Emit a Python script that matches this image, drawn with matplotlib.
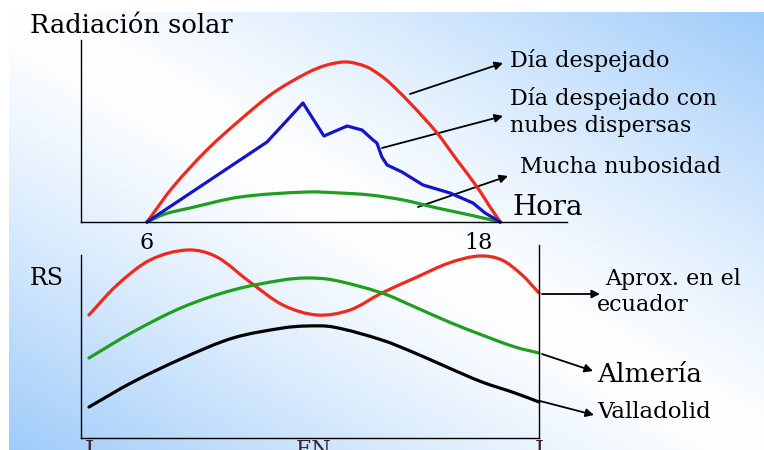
import numpy as np
import matplotlib
matplotlib.use("Agg")
import matplotlib.pyplot as plt
from matplotlib.path import Path
from matplotlib.patches import PathPatch

# ---------------- data ----------------
# Top chart: hours of the day vs. solar radiation (arbitrary units)
clear_h = [6.00, 6.94, 8.17, 9.37, 10.57, 11.80, 12.52, 13.25, 13.97, 14.44, 14.80,
           15.53, 16.51, 17.23, 17.96, 18.43, 18.80]
clear_v = [0, 35, 72, 102, 129, 149, 157, 160, 155, 147, 139, 119, 89, 62, 35, 15, 0]

scattered_h = [6.00, 10.35, 11.65, 12.41, 13.25, 13.79, 14.19, 14.33, 14.51, 14.70,
               15.24, 15.53, 16.00, 16.98, 17.81, 18.25, 18.80]
scattered_v = [0, 80, 119, 86, 96, 92, 82, 79, 65, 57, 50, 45, 37, 29, 19, 9, 0]

cloudy_h = [6.00, 6.65, 7.56, 9.37, 11.80, 12.99, 14.08, 15.28, 16.51, 17.70, 18.80]
cloudy_v = [0, 8, 14, 25, 30, 29, 27, 22, 14, 7, 0]

hour_ticks = [6, 18]
hour_labels = ["6", "18"]

# Bottom chart: time of year vs. RS
ecuador_m = [0, 0.75, 1.63, 2.64, 3.41, 4.29, 5.17, 6.08, 6.96, 7.81, 8.69, 9.60,
             10.40, 11.01, 11.55, 12]
ecuador_v = [123, 153, 178, 188, 181, 156, 133, 123, 128, 145, 160, 175, 182, 178, 163, 145]

city_m = [0, 1.17, 2.51, 3.84, 5.17, 5.81, 6.51, 7.81, 8.69, 9.60, 10.48, 11.36, 12]
almeria_v = [80, 106, 131, 148, 158, 160, 158, 145, 131, 116, 103, 91, 85]
valladolid_v = [31, 56, 80, 100, 110, 112, 111, 98, 85, 70, 56, 45, 36]

month_ticks = [0, 6, 12]
month_labels = ["J", "EN", "J"]

# ---------------- figure ----------------
W, H = 764, 450
fig = plt.figure(figsize=(W / 100, H / 100), dpi=100)

def px(x, y):
    return (x / W, 1 - y / H)

# background gradient
bg = fig.add_axes([0, 0, 1, 1], zorder=-10)
yy, xx = np.mgrid[0:H, 0:W]
u = (xx - 9) / (W - 9)
v = (yy - 12) / (H - 12)
t = np.clip(np.abs(u - v), 0, 1) ** 1.25
blue = np.array([158, 203, 250]) / 255.0
white = np.array([1.0, 1.0, 1.0])
img = white[None, None, :] * (1 - t[..., None]) + blue[None, None, :] * t[..., None]
img[(yy < 12) | (xx < 9)] = 1.0
bg.imshow(img, extent=[0, W, H, 0], aspect="auto", interpolation="bilinear")
bg.set_axis_off()

FONT = "DejaVu Serif"
RED = "#ee2a1c"
BLUE = "#1414c8"
GREEN = "#1f9e1f"
LW = 2.3


def smooth_curve(ax, xs, ys, color):
    """Draw a smooth (Hermite/Bezier) path through the given data points."""
    xs = np.asarray(xs, float)
    ys = np.asarray(ys, float)
    n = len(xs)
    m = np.empty(n)
    m[0] = (ys[1] - ys[0]) / (xs[1] - xs[0])
    m[-1] = (ys[-1] - ys[-2]) / (xs[-1] - xs[-2])
    for i in range(1, n - 1):
        m[i] = (ys[i + 1] - ys[i - 1]) / (xs[i + 1] - xs[i - 1])
    verts = [(xs[0], ys[0])]
    codes = [Path.MOVETO]
    for i in range(n - 1):
        dx = xs[i + 1] - xs[i]
        verts += [(xs[i] + dx / 3, ys[i] + m[i] * dx / 3),
                  (xs[i + 1] - dx / 3, ys[i + 1] - m[i + 1] * dx / 3),
                  (xs[i + 1], ys[i + 1])]
        codes += [Path.CURVE4] * 3
    patch = PathPatch(Path(verts, codes), facecolor="none", edgecolor=color,
                      lw=LW, capstyle="round", joinstyle="round",
                      transform=ax.transData, clip_on=False)
    ax.add_patch(patch)


# ---- top axes ----
x0, x1 = 81, 567
y0, y1 = 40, 222
ax1 = fig.add_axes([x0 / W, 1 - y1 / H, (x1 - x0) / W, (y1 - y0) / H])
ax1.set_facecolor("none")
smooth_curve(ax1, clear_h, clear_v, RED)
ax1.plot(scattered_h, scattered_v, color=BLUE, lw=LW, solid_joinstyle="round",
         clip_on=False)
smooth_curve(ax1, cloudy_h, cloudy_v, GREEN)
ax1.set_xlim(3.609, 21.217)
ax1.set_ylim(0, 182)
for s in ["top", "right"]:
    ax1.spines[s].set_visible(False)
for s in ["left", "bottom"]:
    ax1.spines[s].set_linewidth(1.0)
ax1.set_yticks([])
ax1.set_xticks(hour_ticks)
ax1.set_xticklabels(hour_labels, fontfamily=FONT, fontsize=16)
ax1.tick_params(axis="x", length=0, pad=7)

# ---- bottom axes ----
bx0, bx1 = 81, 539
by0, by1 = 255, 438
ax2 = fig.add_axes([bx0 / W, 1 - by1 / H, (bx1 - bx0) / W, (by1 - by0) / H])
ax2.set_facecolor("none")
smooth_curve(ax2, ecuador_m, ecuador_v, RED)
smooth_curve(ax2, city_m, almeria_v, GREEN)
smooth_curve(ax2, city_m, valladolid_v, "black")
ax2.set_xlim(-0.213, 12)
ax2.set_ylim(0, 183)
ax2.axvline(12, ymin=0, ymax=193 / 183, color="black", lw=1.0, clip_on=False)
for s in ["top", "right"]:
    ax2.spines[s].set_visible(False)
for s in ["left", "bottom"]:
    ax2.spines[s].set_linewidth(1.0)
ax2.set_yticks([])
ax2.set_xticks(month_ticks)
ax2.set_xticklabels(month_labels, fontfamily=FONT, fontsize=16, color="#3a2030")
ax2.tick_params(axis="x", length=0, pad=1)

# ---- texts ----
def label(x, y, s, size):
    fig.text(*px(x, y), s, fontfamily=FONT, fontsize=size, ha="left", va="baseline",
             color="black")

label(30, 33, "Radiación solar", 18.5)
label(30, 285, "RS", 17)
label(510, 67, "Día despejado", 16)
label(510, 105, "Día despejado con", 16)
label(510, 132, "nubes dispersas", 16)
label(520, 173, "Mucha nubosidad", 16)
label(512, 215, "Hora", 20)
label(605, 285, "Aprox. en el", 16)
label(597, 311, "ecuador", 16)
label(597, 382, "Almería", 19)
label(597, 418, "Valladolid", 16.5)

# ---- arrows ----
arrows = [((410, 94), (503, 63)),
          ((382, 148), (503, 116)),
          ((418, 207), (508, 176)),
          ((542, 294), (600, 294)),
          ((542, 354), (593, 371)),
          ((540, 401), (594, 415))]
for tail, head in arrows:
    bg.annotate("", xy=px(*head), xytext=px(*tail), xycoords="figure fraction",
                textcoords="figure fraction",
                arrowprops=dict(arrowstyle="-|>", color="black", lw=1.3,
                                mutation_scale=12, shrinkA=0, shrinkB=0))

fig.savefig("out.png", dpi=100)
